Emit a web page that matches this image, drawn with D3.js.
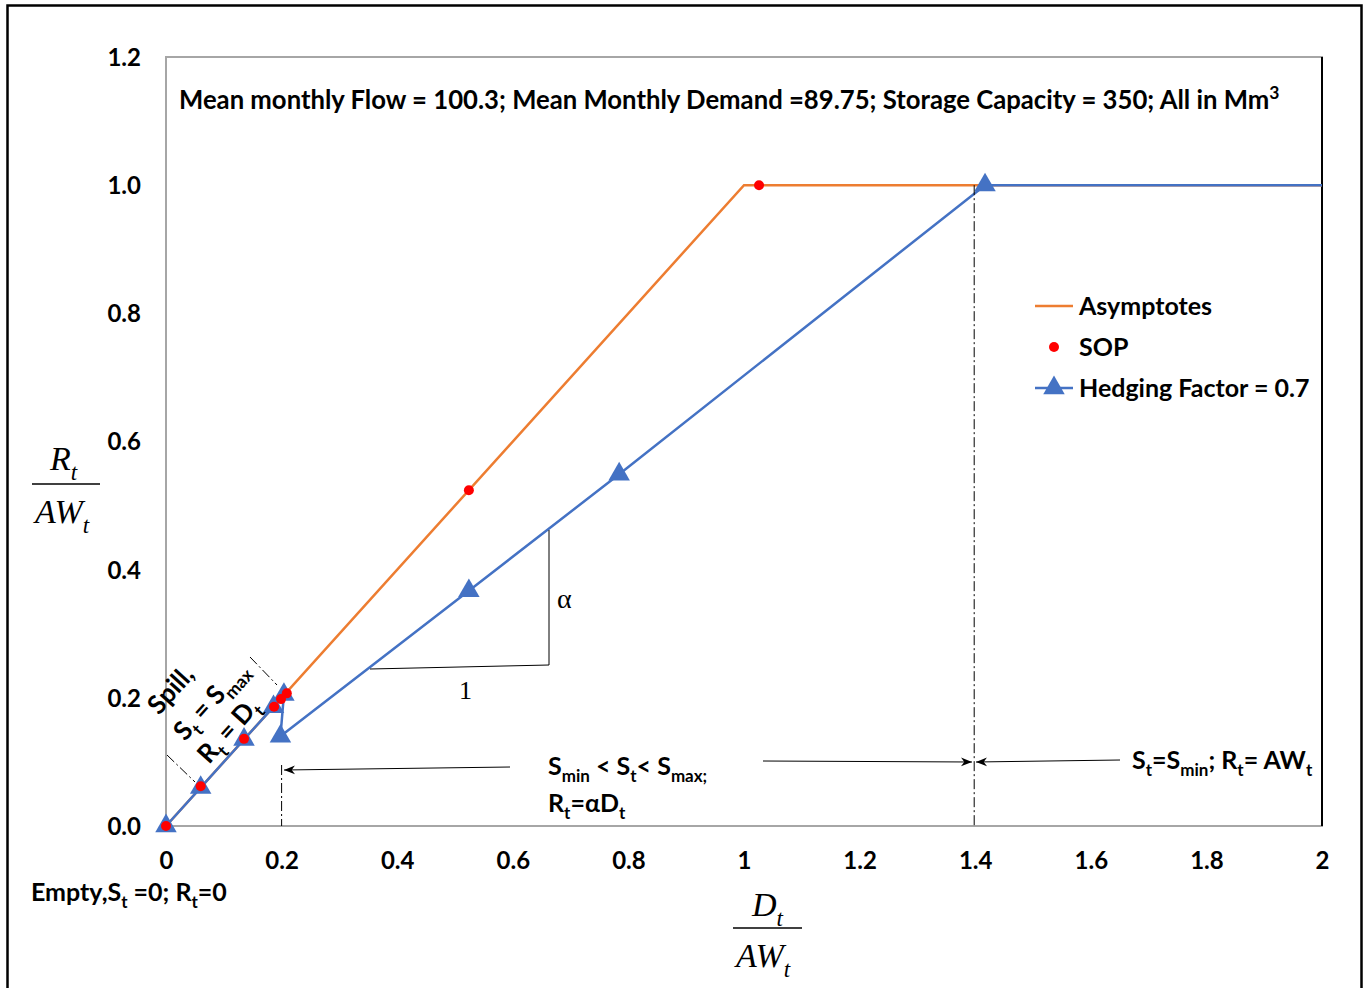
<!DOCTYPE html>
<html>
<head>
<meta charset="utf-8">
<script src="https://cdn.jsdelivr.net/npm/d3@7"></script>
<style>
  body { margin: 0; background: #fff; }
  svg text { font-family: Lato, "Open Sans", sans-serif; font-weight: bold; fill: #000; }
  svg text.math { font-family: "Liberation Serif", "DejaVu Serif", serif; font-weight: normal; font-style: italic; }
  svg text.serif { font-family: "Liberation Serif", "DejaVu Serif", serif; font-weight: normal; }
</style>
</head>
<body>
<svg id="chart"></svg>
<script>
/** Chart data **/
var xTicks = [0, 0.2, 0.4, 0.6, 0.8, 1, 1.2, 1.4, 1.6, 1.8, 2];
var xTickLabels = ["0", "0.2", "0.4", "0.6", "0.8", "1", "1.2", "1.4", "1.6", "1.8", "2"];
var yTicks = [0, 0.2, 0.4, 0.6, 0.8, 1.0, 1.2];
var yTickLabels = ["0.0", "0.2", "0.4", "0.6", "0.8", "1.0", "1.2"];

var asymX = [0, 1, 2];
var asymY = [0, 1, 1];

var sopX = [0, 0.06, 0.135, 0.187, 0.199, 0.209, 0.524, 1.026];
var sopY = [0, 0.062, 0.136, 0.186, 0.198, 0.207, 0.524, 1.0];

var hedgeX = [0, 0.06, 0.135, 0.186, 0.204, 0.198, 0.524, 0.784, 1.417, 2];
var hedgeY = [0, 0.06, 0.135, 0.186, 0.205, 0.14, 0.367, 0.549, 1.0, 1.0];
var hedgeMarked = [1, 1, 1, 1, 1, 1, 1, 1, 1, 0];

var seriesNames = ["Asymptotes", "SOP", "Hedging Factor = 0.7"];
var titleText = "Mean monthly Flow = 100.3; Mean Monthly Demand =89.75; Storage Capacity = 350; All in Mm";

var W = 1364, H = 988;
var col_orange = "#ED7D31";
var col_blue   = "#4472C4";
var col_red    = "#FF0000";
var fs = 25;                        // main bold label size

var plot_left = 166, plot_right = 1322, plot_top = 57, plot_bottom = 826;

var svg = d3.select("#chart").attr("width", W).attr("height", H);

// outer frame
svg.append("rect")
    .attr("x", 7.5).attr("y", 5.5)
    .attr("width", 1354).attr("height", 1000)
    .attr("fill", "none").attr("stroke", "#000").attr("stroke-width", 2.5);

var xScale = d3.scaleLinear().domain([0, 2]).range([plot_left, plot_right]);
var yScale = d3.scaleLinear().domain([0, 1.2]).range([plot_bottom, plot_top]);

// plot area border
svg.append("rect")
    .attr("x", plot_left).attr("y", plot_top)
    .attr("width", plot_right - plot_left).attr("height", plot_bottom - plot_top)
    .attr("fill", "none").attr("stroke", "#a6a6a6").attr("stroke-width", 2);
svg.append("line")
    .attr("x1", plot_right).attr("x2", plot_right)
    .attr("y1", plot_top).attr("y2", plot_bottom)
    .attr("stroke", "#000").attr("stroke-width", 2);

// axes
var xAxis = d3.axisBottom(xScale)
    .tickValues(xTicks)
    .tickFormat(function(d, i) { return xTickLabels[i]; })
    .tickSize(0).tickPadding(26);
var yAxis = d3.axisLeft(yScale)
    .tickValues(yTicks)
    .tickFormat(function(d, i) { return yTickLabels[i]; })
    .tickSize(0).tickPadding(25);

var gx = svg.append("g").attr("transform", "translate(0," + plot_bottom + ")").call(xAxis);
var gy = svg.append("g").attr("transform", "translate(" + plot_left + ",0)").call(yAxis);
[gx, gy].forEach(function(g) {
    g.select(".domain").remove();
    g.selectAll("text")
        .style("font-family", "Lato, 'Open Sans', sans-serif")
        .style("font-weight", "bold")
        .style("font-size", "24px")
        .attr("fill", "#000");
});
gy.selectAll("text").attr("dy", "0.35em");

/**
 * Helper: writes text made of segments, some as subscripts.
 */
function richText(parent, x, y, segs, size, cls)
{
    var t = parent.append("text").attr("x", x).attr("y", y)
        .style("font-size", size + "px");
    if (cls) t.attr("class", cls);
    var shift = 0;
    segs.forEach(function(s) {
        var target = s.sub ? size * 0.28 : (s.sup ? -size * 0.38 : 0);
        var ts = t.append("tspan").text(s.t).attr("dy", target - shift);
        if (s.sub || s.sup) ts.style("font-size", (size * 0.68) + "px");
        shift = target;
    });
    return t;
}

// chart lines
var line = d3.line()
    .x(function(d) { return xScale(d[0]); })
    .y(function(d) { return yScale(d[1]); });

var asymData = asymX.map(function(x, i) { return [x, asymY[i]]; });
var hedgeData = hedgeX.map(function(x, i) { return [x, hedgeY[i], hedgeMarked[i]]; });
var sopData = sopX.map(function(x, i) { return [x, sopY[i]]; });

svg.append("path").datum(asymData)
    .attr("d", line).attr("fill", "none")
    .attr("stroke", col_orange).attr("stroke-width", 2.5);

svg.append("path").datum(hedgeData)
    .attr("d", line).attr("fill", "none")
    .attr("stroke", col_blue).attr("stroke-width", 2.5);

var tri = d3.symbol().type(d3.symbolTriangle).size(200);

svg.append("g").selectAll("path")
    .data(hedgeData.filter(function(d) { return d[2]; }))
    .enter().append("path")
    .attr("d", tri)
    .attr("transform", function(d) {
        return "translate(" + xScale(d[0]) + "," + yScale(d[1]) + ")";
    })
    .attr("fill", col_blue);

svg.append("g").selectAll("circle")
    .data(sopData)
    .enter().append("circle")
    .attr("cx", function(d) { return xScale(d[0]); })
    .attr("cy", function(d) { return yScale(d[1]); })
    .attr("r", 5)
    .attr("fill", col_red);

// title inside plot
richText(svg, 179, 109, [{t: titleText}, {t: "3", sup: true}], 25.7);

// legend
var lg = svg.append("g");
lg.append("line").attr("x1", 1035).attr("x2", 1073).attr("y1", 306).attr("y2", 306)
    .attr("stroke", col_orange).attr("stroke-width", 2.5);
lg.append("circle").attr("cx", 1054).attr("cy", 347).attr("r", 5).attr("fill", col_red);
lg.append("line").attr("x1", 1035).attr("x2", 1073).attr("y1", 388).attr("y2", 388)
    .attr("stroke", col_blue).attr("stroke-width", 2.5);
lg.append("path").attr("d", tri).attr("transform", "translate(1054,388)").attr("fill", col_blue);
[306, 347, 388].forEach(function(y, i) {
    lg.append("text").attr("x", 1079).attr("y", y + 9)
        .style("font-size", fs + "px").text(seriesNames[i]);
});

// axis titles (fractions)
richText(svg, 50, 470, [{t: "R"}, {t: "t", sub: true}], 34, "math");
svg.append("line").attr("x1", 32).attr("x2", 100).attr("y1", 484).attr("y2", 484)
    .attr("stroke", "#000").attr("stroke-width", 1.5);
richText(svg, 35, 523, [{t: "AW"}, {t: "t", sub: true}], 34, "math");

richText(svg, 752, 916, [{t: "D"}, {t: "t", sub: true}], 34, "math");
svg.append("line").attr("x1", 733).attr("x2", 802).attr("y1", 928).attr("y2", 928)
    .attr("stroke", "#000").attr("stroke-width", 1.5);
richText(svg, 736, 967, [{t: "AW"}, {t: "t", sub: true}], 34, "math");

// slope triangle
svg.append("path")
    .attr("d", "M370,669 L549,665 L549,530")
    .attr("fill", "none").attr("stroke", "#000").attr("stroke-width", 1);
svg.append("text").attr("class", "serif").attr("x", 557).attr("y", 608)
    .style("font-size", "28px").text("\u03B1");
svg.append("text").attr("class", "serif").attr("x", 459).attr("y", 699)
    .style("font-size", "26px").text("1");

// dash-dot guides
var dashDot = "10,3,2,3";
function guide(x1, y1, x2, y2)
{
    svg.append("line").attr("x1", x1).attr("y1", y1).attr("x2", x2).attr("y2", y2)
        .attr("stroke", "#000").attr("stroke-width", 1)
        .attr("stroke-dasharray", dashDot);
}
guide(xScale(0.2), 765, xScale(0.2), plot_bottom);
guide(xScale(1.4) - 1, yScale(1.0), xScale(1.4) - 1, plot_bottom);
guide(167, 755, 195, 782);
guide(250, 657, 277, 685);

// arrows
var defs = svg.append("defs");
defs.append("marker").attr("id", "arr")
    .attr("viewBox", "0 0 10 10").attr("refX", 10).attr("refY", 5)
    .attr("markerWidth", 11).attr("markerHeight", 11)
    .attr("markerUnits", "userSpaceOnUse")
    .attr("orient", "auto")
    .append("path").attr("d", "M0,1 L10,5 L0,9 L3,5 Z").attr("fill", "#000");

function arrow(x1, y1, x2, y2)
{
    svg.append("line").attr("x1", x1).attr("y1", y1).attr("x2", x2).attr("y2", y2)
        .attr("stroke", "#000").attr("stroke-width", 1)
        .attr("marker-end", "url(#arr)");
}
arrow(510, 767, 284, 770);
arrow(763, 761, 972, 762);
arrow(1120, 760, 976, 762);

// annotations
richText(svg, 548, 775, [{t: "S"}, {t: "min", sub: true}, {t: " < S"}, {t: "t", sub: true},
    {t: "< S"}, {t: "max;", sub: true}], fs);
richText(svg, 548, 812, [{t: "R"}, {t: "t", sub: true}, {t: "=\u03B1D"}, {t: "t", sub: true}], fs);
richText(svg, 1132, 769, [{t: "S"}, {t: "t", sub: true}, {t: "=S"}, {t: "min", sub: true},
    {t: "; R"}, {t: "t", sub: true}, {t: "= AW"}, {t: "t", sub: true}], fs);
richText(svg, 31, 901, [{t: "Empty,S"}, {t: "t", sub: true}, {t: " =0; R"}, {t: "t", sub: true},
    {t: "=0"}], fs);

// spill annotation, rotated along the asymptote
var ang = -48;
svg.append("text").attr("transform", "translate(159,716) rotate(" + ang + ")")
    .style("font-size", "26px").text("Spill,");
richText(svg.append("g").attr("transform", "translate(185,742) rotate(" + ang + ")"),
    0, 0, [{t: "S"}, {t: "t", sub: true}, {t: " = S"}, {t: "max", sub: true}], 26);
richText(svg.append("g").attr("transform", "translate(209,765) rotate(" + ang + ")"),
    0, 0, [{t: "R"}, {t: "t", sub: true}, {t: " = D"}, {t: "t", sub: true}], 26);
</script>
</body>
</html>
